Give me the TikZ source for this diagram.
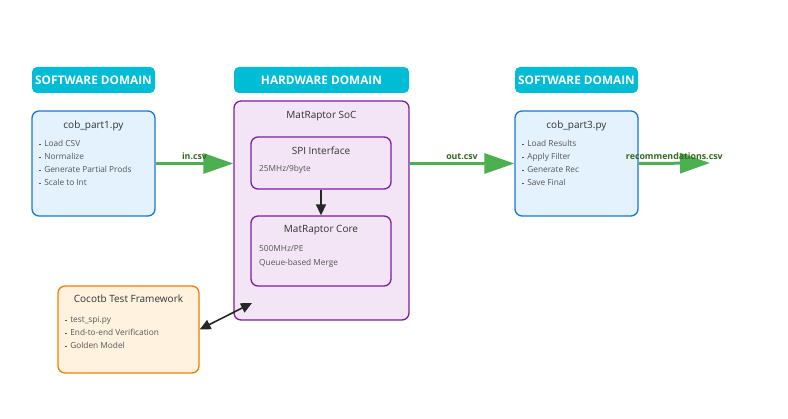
\documentclass[tikz,border=0pt]{standalone}
\usepackage{fontspec}
\setmainfont{Open Sans}
\usetikzlibrary{positioning,arrows.meta}

\definecolor{domcyan}{HTML}{00BCD4}
\definecolor{swline}{HTML}{1976D2}
\definecolor{swfill}{HTML}{E3F2FD}
\definecolor{hwline}{HTML}{7B1FA2}
\definecolor{hwfill}{HTML}{F3E5F5}
\definecolor{tbline}{HTML}{F57C00}
\definecolor{tbfill}{HTML}{FFF3E0}
\definecolor{flowgreen}{HTML}{4CAF50}
\definecolor{flowtext}{HTML}{33691E}
\definecolor{darktext}{HTML}{333333}
\definecolor{greytext}{HTML}{555555}

\newcommand{\itm}{\textcolor{greytext}{\rule[0.25ex]{1.6pt}{1.6pt}}\hspace{3.5pt}}

\begin{document}
\begin{tikzpicture}[x=1pt,y=-1pt,
      domhead/.style ={rectangle, rounded corners=5pt, fill=domcyan, text=white,
                      font=\fontsize{11.8}{14}\selectfont\bfseries, minimum height=26pt, inner sep=0pt},
      swbox/.style  ={rectangle, rounded corners=7pt, draw=swline, line width=1.3pt, fill=swfill,
                      minimum width=123pt, minimum height=105pt},
      hwbox/.style  ={rectangle, rounded corners=7pt, draw=hwline, line width=1.3pt, fill=hwfill},
      tbbox/.style  ={rectangle, rounded corners=7pt, draw=tbline, line width=1.3pt, fill=tbfill,
                      minimum width=141pt, minimum height=87pt},
      boxtitle/.style ={text=darktext, font=\fontsize{10}{12}\selectfont, inner sep=0pt},
      itemlist/.style ={text=greytext, font=\fontsize{8.3}{13}\selectfont, align=left,
                      anchor=north west, inner sep=0pt},
      flowline/.style ={line width=3pt, draw=flowgreen, -{Triangle[length=30pt,width=20pt]}},
      flowlbl/.style={text=flowtext, font=\fontsize{8.8}{10}\selectfont\bfseries, inner sep=0pt},
      linkline/.style ={line width=1.6pt, draw=black!85}
    ]
    \useasboundingbox (0,0) rectangle (788,419);

    % domain headers
    \node [domhead, minimum width=123pt] (swdom1) at (93.5,80) {SOFTWARE DOMAIN};
    \node [domhead, minimum width=175pt] (hwdom) at (321.5,80) {HARDWARE DOMAIN};
    \node [domhead, minimum width=123pt] (swdom2) at (576.5,80) {SOFTWARE DOMAIN};

    % software, part 1
    \node [swbox] (part1) at (93.5,163.5) {};
    \node [boxtitle] (part1title) at (93.5,126) {cob\_part1.py};
    \node [itemlist] (part1items) at (39,140) {\itm Load CSV\\ \itm Normalize\\ \itm Generate Partial Prods\\ \itm Scale to Int};

    % hardware
    \node [hwbox, minimum width=175pt, minimum height=219pt] (soc) at (321.5,210.5) {};
    \node [boxtitle] (soctitle) at (321.5,116) {MatRaptor SoC};
    \node [hwbox, minimum width=140pt, minimum height=52pt] (spi) at (321,163) {};
    \node [boxtitle] (spititle) at (321,151) {SPI Interface};
    \node [itemlist] (spiitems) at (259,165) {25MHz/9byte};
    \node [hwbox, minimum width=140pt, minimum height=70pt] (core) at (321,251) {};
    \node [boxtitle] (coretitle) at (321,230) {MatRaptor Core};
    \node [itemlist, font=\fontsize{8.3}{14}\selectfont] (coreitems) at (259,245) {500MHz/PE\\ Queue-based Merge};

    % software, part 3
    \node [swbox] (part3) at (576.5,163.5) {};
    \node [boxtitle] (part3title) at (576.5,126) {cob\_part3.py};
    \node [itemlist] (part3items) at (522,140) {\itm Load Results\\ \itm Apply Filter\\ \itm Generate Rec\\ \itm Save Final};

    % test framework
    \node [tbbox] (cocotb) at (128.5,329.5) {};
    \node [boxtitle] (cocotbtitle) at (128.5,299) {Cocotb Test Framework};
    \node [itemlist] (cocotbitems) at (65,316) {\itm test\_spi.py\\ \itm End-to-end Verification\\ \itm Golden Model};

    \coordinate (recout) at (710,163);
    \coordinate (socport) at (252,303);

    % connectors
    \draw [flowline] (part1.east) -- node [flowlbl, midway, yshift=7pt] {in.csv} (soc.west |- part1.east);
    \draw [flowline] (soc.east |- part3.west) -- node [flowlbl, midway, yshift=7pt] {out.csv} (part3.west);
    \draw [flowline] (part3.east) -- node [flowlbl, midway, yshift=7pt] {recommendations.csv} (recout);
    \draw [linkline, -{Triangle[length=11pt,width=10pt]}] (spi.south) -- (core.north);
    \draw [linkline, {Triangle[length=11pt,width=10pt]}-{Triangle[length=11pt,width=10pt]}] (cocotb.east) -- (socport);
  \end{tikzpicture}
\end{document}
